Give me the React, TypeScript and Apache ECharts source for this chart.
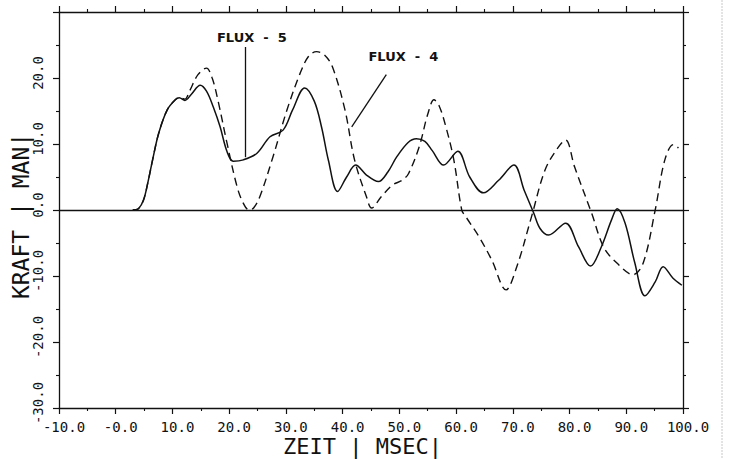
import React, { useEffect, useRef } from "react";
import * as echarts from "echarts";

const flux5Time = [3.0, 4.0, 4.9, 5.7, 6.5, 7.6, 9.1, 10.5, 11.2, 12.2, 13.3, 14.9, 16.0, 17.2, 18.4, 19.6, 20.7, 22.5, 24.9, 27.2, 29.5, 31.2, 33.3, 35.0, 36.3, 37.5, 39.1, 40.7, 42.3, 44.2, 46.3, 48.0, 49.5, 51.5, 53.0, 54.5, 55.8, 57.8, 60.3, 62.4, 64.8, 67.5, 70.2, 72.0, 73.7, 74.8, 76.3, 79.3, 81.6, 83.7, 85.6, 87.4, 88.4, 89.8, 91.5, 93.3, 95.1, 96.5, 98.2, 99.8];
const flux5Force = [0, 0.2, 1.5, 4.3, 7.6, 11.7, 15.2, 16.7, 17.0, 16.6, 17.5, 18.9, 18.0, 15.6, 12.6, 8.9, 7.4, 7.6, 8.6, 11.1, 12.1, 15.2, 18.5, 16.5, 12.5, 7.5, 2.8, 5.0, 6.8, 5.3, 4.3, 5.8, 8.0, 10.2, 10.8, 10.4, 9.0, 6.8, 8.9, 5.0, 2.6, 4.5, 6.8, 3.0, -0.5, -2.8, -3.8, -2.0, -5.6, -8.5, -5.6, -1.5, 0.2, -2.0, -8.0, -13.0, -10.9, -8.6, -10.3, -11.4];

const flux4Time = [3.0, 4.0, 4.9, 5.7, 6.5, 7.6, 9.1, 10.5, 11.2, 12.2, 13.0, 14.5, 16.0, 17.0, 18.0, 19.6, 21.4, 22.5, 23.5, 24.3, 25.4, 27.7, 30.2, 32.5, 34.0, 35.4, 36.8, 38.2, 40.4, 42.1, 44.2, 45.1, 46.8, 48.8, 50.5, 51.6, 53.5, 55.0, 56.1, 57.0, 58.2, 59.6, 61.0, 61.7, 64.0, 66.3, 68.8, 70.7, 73.3, 75.7, 78.0, 79.3, 80.9, 83.9, 86.0, 88.3, 91.2, 93.0, 95.1, 96.8, 98.3, 99.2];
const flux4Force = [0, 0.2, 1.5, 4.3, 7.6, 11.7, 15.2, 16.7, 17.0, 16.8, 18.0, 20.5, 21.5, 20.0, 16.7, 10.2, 3.5, 1.0, 0, 0.3, 2.0, 8.0, 15.2, 20.7, 23.3, 24.0, 23.5, 21.7, 15.2, 7.6, 2.0, 0.3, 2.0, 3.8, 4.5, 5.5, 9.6, 14.5, 16.7, 15.8, 12.6, 7.6, 0, -1.0, -4.0, -7.6, -12.1, -8.6, -1.0, 6.1, 9.5, 10.6, 6.5, -0.5, -5.6, -8.0, -9.8, -8.0, 0, 7.6, 9.9, 9.4];

const xTicks = [-10, 0, 10, 20, 30, 40, 50, 60, 70, 80, 90, 100];
const xTickLabels = ["-10.0", "-0.0", "10.0", "20.0", "30.0", "40.0", "50.0", "60.0", "70.0", "80.0", "90.0", "100.0"];
const yTicks = [-30, -20, -10, 0, 10, 20, 30];
const yTickLabels = ["-30.0", "-20.0", "-10.0", "0.0", "10.0", "20.0", ""];

const flux5Label = { name: "FLUX  -  5", text: [24.0, 26.2], lineFrom: [22.8, 24.7], lineTo: [22.8, 8.0] };
const flux4Label = { name: "FLUX  -  4", text: [50.7, 23.2], lineFrom: [47.7, 20.5], lineTo: [41.6, 12.6] };

const INK = "#111";
const monoFont = "'DejaVu Sans Mono', 'Liberation Mono', monospace";

function zip(xs: number[], ys: number[]) {
  return xs.map((x, i) => [x, ys[i]]);
}

export default function App() {
  const ref = useRef<HTMLDivElement>(null);
  useEffect(() => {
    if (!ref.current) return;
    const chart = echarts.init(ref.current, undefined, { renderer: "svg" });
    const axisLine = { show: true, onZero: false, lineStyle: { color: INK, width: 1.3 } };
    const axisTick = { show: true, length: 6, lineStyle: { color: INK, width: 1.2 } };
    const minorTick = { show: true, splitNumber: 2, length: 3, lineStyle: { color: INK, width: 1.1 } };
    const xFmt = (v: number) => {
      const i = xTicks.indexOf(Math.round(v));
      return i >= 0 ? xTickLabels[i] : "";
    };
    const yFmt = (v: number) => {
      const i = yTicks.indexOf(Math.round(v));
      return i >= 0 ? yTickLabels[i] : "";
    };
    const option: any = {
      animation: false,
      backgroundColor: "#fff",
      grid: { left: 59, right: 52, top: 12, bottom: 51, containLabel: false, outerBoundsMode: "none" },
      xAxis: [
        {
          type: "value", min: -10, max: 100, interval: 10, position: "bottom",
          axisLine, axisTick, minorTick, splitLine: { show: false },
          axisLabel: { formatter: xFmt, color: INK, fontFamily: monoFont, fontSize: 14, margin: 12, padding: [0, 0, 0, 10] },
          name: "ZEIT | MSEC|", nameLocation: "middle", nameGap: 27, nameMoveOverlap: false,
          nameTextStyle: { color: INK, fontFamily: monoFont, fontSize: 22, padding: [0, 17, 0, 0] },
        },
        {
          type: "value", min: -10, max: 100, interval: 10, position: "top",
          axisLine, axisTick, minorTick, splitLine: { show: false }, axisLabel: { show: false },
        },
      ],
      yAxis: [
        {
          type: "value", min: -30, max: 30, interval: 10, position: "left",
          axisLine, axisTick, minorTick, splitLine: { show: false },
          axisLabel: { formatter: yFmt, rotate: 90, color: INK, fontFamily: monoFont, fontSize: 14, margin: 14, padding: [0, 0, 0, 10] },
          name: "KRAFT | MAN|", nameLocation: "middle", nameGap: 27, nameRotate: 90, nameMoveOverlap: false,
          nameTextStyle: { color: INK, fontFamily: monoFont, fontSize: 23, padding: [0, 12, 0, 0] },
        },
        {
          type: "value", min: -30, max: 30, interval: 10, position: "right",
          axisLine, axisTick, minorTick, splitLine: { show: false }, axisLabel: { show: false },
        },
      ],
      series: [
        {
          name: "FLUX - 5", type: "line", smooth: 0.35, showSymbol: false, symbol: "none",
          data: zip(flux5Time, flux5Force),
          lineStyle: { color: INK, width: 1.5 },
          markLine: {
            silent: true, symbol: "none", label: { show: false },
            lineStyle: { color: INK, width: 1.3, type: "solid" },
            data: [
              { yAxis: 0 },
              [{ coord: flux5Label.lineFrom }, { coord: flux5Label.lineTo }],
              [{ coord: flux4Label.lineFrom }, { coord: flux4Label.lineTo }],
            ],
          },
          markPoint: {
            silent: true, symbol: "circle", symbolSize: 0,
            label: { show: true, position: "inside", formatter: "{b}", color: INK, fontFamily: "'DejaVu Sans', sans-serif", fontWeight: "bold", fontSize: 13 },
            data: [
              { name: flux5Label.name, coord: flux5Label.text },
              { name: flux4Label.name, coord: flux4Label.text },
            ],
          },
        },
        {
          name: "FLUX - 4", type: "line", smooth: 0.35, showSymbol: false, symbol: "none",
          data: zip(flux4Time, flux4Force),
          lineStyle: { color: INK, width: 1.4, type: [8, 5] },
        },
      ],
      graphic: [
        { type: "line", shape: { x1: 722, y1: 0, x2: 722, y2: 459 }, style: { stroke: "#c8c8c8", lineWidth: 1, lineDash: [2, 1] } },
      ],
    };
    chart.setOption(option);
    return () => chart.dispose();
  }, []);
  return <div ref={ref} style={{ position: "absolute", left: 0, top: 0, width: 735, height: 459 }} />;
}
